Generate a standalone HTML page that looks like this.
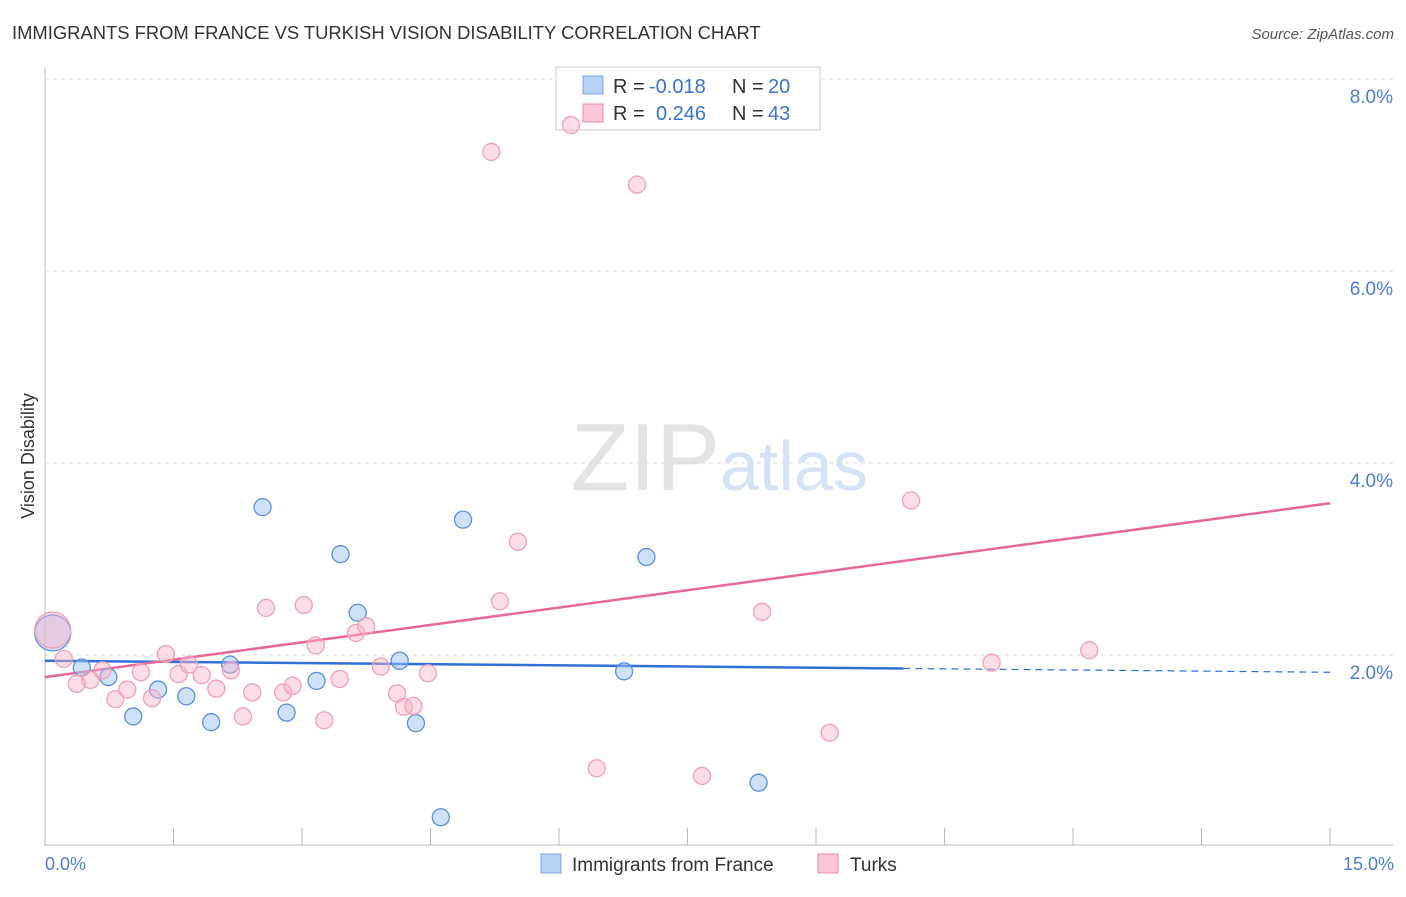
<!DOCTYPE html>
<html><head><meta charset="utf-8"><style>
body{margin:0;background:#fff;font-family:"Liberation Sans",sans-serif}
svg text{font-family:"Liberation Sans",sans-serif}
</style></head><body>
<svg width="1406" height="892" xmlns="http://www.w3.org/2000/svg">
<text x="12" y="39" font-size="18.4" fill="#333">IMMIGRANTS FROM FRANCE VS TURKISH VISION DISABILITY CORRELATION CHART</text>
<text x="1394" y="39" font-size="15" fill="#555" font-style="italic" text-anchor="end">Source: ZipAtlas.com</text>
<text x="720" y="490" font-size="96" fill="#e4e4e4" text-anchor="end" font-family="Liberation Serif">ZIP</text>
<text x="720" y="490" font-size="70" fill="#d6e3f5">atlas</text>
<g id="grid"></g><g id="axes"></g>
<g>
<rect x="556" y="67" width="264" height="63" fill="#fff" stroke="#ccc"/>
<rect x="583" y="76" width="20" height="18" fill="#b7d2f5" stroke="#7aa5e0"/>
<rect x="583" y="104" width="20" height="18" fill="#fbc6d5" stroke="#f08aaa"/>
<text x="613" y="93" font-size="20" fill="#333">R =</text>
<text x="649" y="93" font-size="20" fill="#3b73d0">-0.018</text>
<text x="732" y="93" font-size="20" fill="#333">N =</text>
<text x="768" y="93" font-size="20" fill="#3b73d0">20</text>
<text x="613" y="120" font-size="20" fill="#333">R =</text>
<text x="656" y="120" font-size="20" fill="#3b73d0">0.246</text>
<text x="732" y="120" font-size="20" fill="#333">N =</text>
<text x="768" y="120" font-size="20" fill="#3b73d0">43</text>
</g>
<g id="trend"></g><g id="pts"></g>
<text transform="translate(34,456) rotate(-90)" font-size="18" fill="#333" text-anchor="middle">Vision Disability</text>
<text x="45" y="870" font-size="18" fill="#4a7fd4">0.0%</text>
<text x="1394" y="870" font-size="18" fill="#4a7fd4" text-anchor="end">15.0%</text>
<g>
<rect x="541" y="854" width="20" height="19" fill="#b7d2f5" stroke="#7aa5e0"/>
<text x="572" y="871" font-size="19" fill="#333">Immigrants from France</text>
<rect x="818" y="854" width="20" height="19" fill="#fbc6d5" stroke="#f08aaa"/>
<text x="850" y="871" font-size="19" fill="#333">Turks</text>
</g>
</svg>
<script>
const blueX=[0.09,0.43,0.74,1.03,1.32,1.65,1.94,2.16,2.54,2.82,3.17,3.45,3.65,4.14,4.33,4.62,4.88,6.76,7.02,8.33];
const blueY=[2.23,1.87,1.77,1.36,1.64,1.57,1.30,1.90,3.54,1.40,1.73,3.05,2.44,1.94,1.29,0.31,3.41,1.83,3.02,0.67];
const pinkX=[0.09,0.22,0.37,0.53,0.67,0.82,0.96,1.12,1.25,1.41,1.56,1.68,1.83,2.00,2.17,2.31,2.42,2.58,2.78,2.89,3.02,3.16,3.26,3.44,3.63,3.75,3.92,4.11,4.19,4.30,4.47,5.21,5.31,5.52,6.14,6.44,6.91,7.67,8.37,9.16,10.11,11.05,12.19];
const pinkY=[2.26,1.96,1.70,1.74,1.84,1.54,1.64,1.82,1.55,2.01,1.80,1.90,1.79,1.65,1.84,1.36,1.61,2.49,1.61,1.68,2.52,2.10,1.32,1.75,2.23,2.30,1.88,1.60,1.46,1.47,1.81,7.24,2.56,3.18,7.52,0.82,6.90,0.74,2.45,1.19,3.61,1.92,2.05];
const yTicks=[2,4,6,8];
const yTickLabels=["2.0%","4.0%","6.0%","8.0%"];
const blueTrend=[1.94,-0.008];
const pinkTrend=[1.77,0.1207];
const NS="http://www.w3.org/2000/svg";
const sx=v=>45+v*1285/15, sy=v=>847-v*96;
function mk(t,a,p){const e=document.createElementNS(NS,t);for(const k in a)e.setAttribute(k,a[k]);document.getElementById(p).appendChild(e);return e;}
yTicks.forEach((t,i)=>{
 const g=mk('line',{x1:45,x2:1393,y1:sy(t),y2:sy(t),stroke:'#ddd','stroke-dasharray':'4,4'},'grid');
 
 
 const l=mk('text',{x:1393,y:sy(t)+24,'font-size':19,fill:'#4a7fd4','text-anchor':'end'},'grid');l.textContent=yTickLabels[i];
 
 
});
mk('line',{x1:45,x2:45,y1:68,y2:846,stroke:'#bbb'},'axes');
mk('line',{x1:45,x2:1393,y1:845,y2:845,stroke:'#bbb'},'axes');
for(let i=0;i<=10;i++){const t=mk('line',{x1:sx(i*1.5),x2:sx(i*1.5),y1:828,y2:845,stroke:'#bbb'},'axes');
 
 }
const bEnd=10.02;
let b=mk('line',{x1:sx(0),y1:sy(blueTrend[0]),x2:sx(bEnd),y2:sy(blueTrend[0]+blueTrend[1]*bEnd),stroke:'#2f6fd6','stroke-width':2.5},'trend');


b=mk('line',{x1:sx(bEnd),y1:sy(blueTrend[0]+blueTrend[1]*bEnd),x2:sx(15),y2:sy(blueTrend[0]+blueTrend[1]*15),stroke:'#2f6fd6','stroke-width':1.2,'stroke-dasharray':'7,5'},'trend');


const p=mk('line',{x1:sx(0),y1:sy(pinkTrend[0]),x2:sx(15),y2:sy(pinkTrend[0]+pinkTrend[1]*15),stroke:'#e8679a','stroke-width':2.5},'trend');


function pts(X,Y,fill,stroke,name){X.forEach((x,i)=>{const c=mk('circle',{cx:sx(x),cy:sy(Y[i]),r:i===0?18:8.5,fill:fill,stroke:stroke,'stroke-width':1.3},'pts');
 
 });}
pts(blueX,blueY,'rgba(160,195,240,0.5)','#5b8fe0','france-point');
pts(pinkX,pinkY,'rgba(250,180,200,0.45)','#f0a0b8','turks-point');
</script>
</body></html>
